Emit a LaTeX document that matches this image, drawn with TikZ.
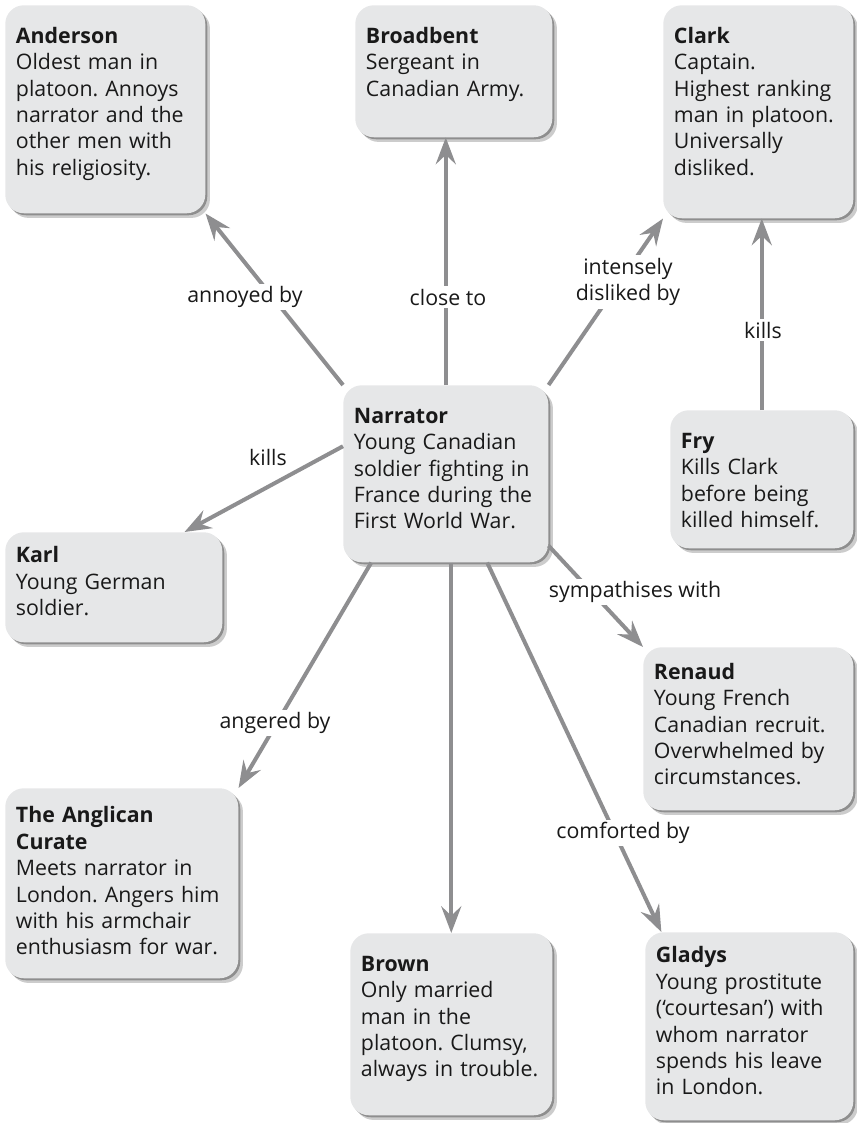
\documentclass[tikz,border=0pt]{standalone}
\usepackage{fontspec}
\setmainfont{Open Sans}
\frenchspacing
\usetikzlibrary{arrows.meta,shadows}
\definecolor{boxgrey}{RGB}{230,231,232}
\definecolor{linkgrey}{RGB}{142,142,144}

\begin{document}
\begin{tikzpicture}[x=0.75pt, y=-0.75pt,
  person/.style={shape=rectangle, rounded corners=14pt, fill=boxgrey, anchor=north west,
    align=left, inner xsep=8pt, inner ysep=0pt, text height=28.5pt, text=black!90,
    font=\fontsize{16}{19.8}\selectfont,
    drop shadow={shadow xshift=1.5pt, shadow yshift=-1.5pt, opacity=0.3, fill=black},
    drop shadow={shadow xshift=3.5pt, shadow yshift=-3.5pt, opacity=0.2, fill=black}},
  link/.style={line width=3pt, draw=linkgrey, -{Stealth[length=20pt, width=15pt, inset=7pt]}},
  rel/.style={fill=white, align=center, inner sep=2pt, text=black!90,
    font=\fontsize{16}{19.8}\selectfont}]
\useasboundingbox (0,0) rectangle (856,1123);

\node[person, text width=134pt, text depth=127.5pt] (anderson) at (5,5) {\textbf{Anderson}\\Oldest man in\\platoon. Annoys\\narrator and the\\other men with\\his religiosity.};
\node[person, text width=131.75pt, text depth=70.5pt] (broadbent) at (355,5) {\textbf{Broadbent}\\Sergeant in\\Canadian Army.};
\node[person, text width=126.5pt, text depth=131.25pt] (clark) at (663,5) {\textbf{Clark}\\Captain.\\Highest ranking\\man in platoon.\\Universally\\disliked.};
\node[person, text width=137.75pt, text depth=104.25pt] (narrator) at (343,385) {\textbf{Narrator}\\Young Canadian\\soldier fighting in\\France during the\\First World War.};
\node[person, text width=121.25pt, text depth=75pt] (fry) at (670,410) {\textbf{Fry}\\Kills Clark\\before being\\killed himself.};
\node[person, text width=146.75pt, text height=23pt, text depth=59.5pt] (karl) at (5,532) {\textbf{Karl}\\Young German\\soldier.};
\node[person, text width=141.5pt, text height=24pt, text depth=98.25pt] (renaud) at (643,647) {\textbf{Renaud}\\Young French\\Canadian recruit.\\Overwhelmed by\\circumstances.};
\node[person, text width=158.75pt, text height=26pt, text depth=116.5pt] (curate) at (5,788) {\textbf{The Anglican}\\\textbf{Curate}\\Meets narrator in\\London. Angers him\\with his armchair\\enthusiasm for war.};
\node[person, text width=135.5pt, text depth=108pt] (brown) at (350,933) {\textbf{Brown}\\Only married\\man in the\\platoon. Clumsy,\\always in trouble.};
\node[person, text width=140pt, text height=23pt, text depth=118pt] (gladys) at (645,932) {\textbf{Gladys}\\Young prostitute\\(‘courtesan’) with\\whom narrator\\spends his leave\\in London.};

\draw[link] (narrator.north west) -- (anderson.south east);
\draw[link] (narrator.north) -- (narrator.north |- broadbent.south);
\draw[link] (narrator.north east) -- (clark.south west);
\draw[link] (fry.north) -- (fry.north |- clark.south);
\draw[link] (narrator.165) -- (karl.38);
\draw[link] (narrator.-35) -- (renaud.north west);
\draw[link] (narrator.295) -- (gladys.133);
\draw[link] (narrator.south -| brown.north) -- (brown.north);
\draw[link] (narrator.230) -- (curate.north east);

\node[rel] (annoyed) at (245,297) {annoyed by};
\node[rel] (close) at (448,297) {close to};
\node[rel] (disliked) at (628,282) {intensely\\disliked by};
\node[rel] (killsfry) at (763,330) {kills};
\node[rel] (killskarl) at (268,457) {kills};
\node[rel] (sympathises) at (635,592) {sympathises with};
\node[rel] (angered) at (275,723) {angered by};
\node[rel] (comforted) at (623,833) {comforted by};
\end{tikzpicture}
\end{document}
